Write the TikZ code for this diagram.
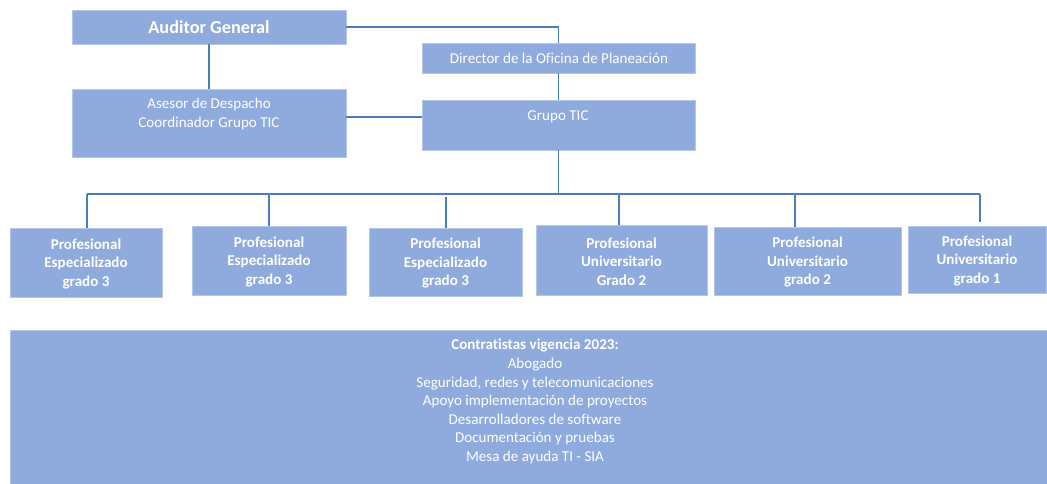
\documentclass[tikz,border=0pt]{standalone}
\usepackage{fontspec}
\setmainfont{Carlito}[Ligatures=CommonOff]
\definecolor{boxfill}{HTML}{8FAADC}
\definecolor{boxedge}{HTML}{B4C7E7}
\definecolor{linec}{HTML}{4A7EBB}
\newcommand\mkbox[5]{\node[box,minimum width={(#4-#2)*0.75pt},minimum height={(#5-#3)*0.75pt}] (#1) at (#2,#3) {};}
\begin{document}
\begin{tikzpicture}[x=0.75pt,y=-0.75pt,
  box/.style={fill=boxfill,draw=boxedge,line width=0.6pt,anchor=north west,inner sep=0pt,outer sep=0pt},
  txt/.style={text=white,font=\fontsize{11.3}{13.9}\selectfont,align=center,inner sep=0pt},
  btxt/.style={txt,font=\fontsize{11.3}{13.9}\selectfont\bfseries},
  conn/.style={draw=linec,line width=0.8pt}]
\useasboundingbox[fill=white] (0,0) rectangle (1047,484);
% boxes
\mkbox{aud}{72}{10}{346}{44}
\mkbox{dir}{422}{43}{695}{73}
\mkbox{ase}{72}{89}{346}{157}
\mkbox{grp}{422}{100}{695}{150}
\mkbox{p1}{10}{228}{162}{297}
\mkbox{p2}{192}{226}{346}{295}
\mkbox{p3}{369}{228}{522}{296}
\mkbox{p4}{536}{225}{707}{295}
\mkbox{p5}{714}{227}{901}{295}
\mkbox{p6}{908}{226}{1046}{293}
\mkbox{con}{10}{330}{1062}{500}
% texts
\node[btxt,font=\fontsize{13.7}{16}\selectfont\bfseries] (audT) at (209,27) {Auditor General};
\node[txt] (dirT) at (559,58) {Director de la Oficina de Planeación};
\node[txt] (aseT) at (209,114) {Asesor de Despacho\\Coordinador Grupo TIC};
\node[txt] (grpT) at (558,117) {Grupo TIC};
\node[btxt] (p1T) at ([yshift=-1]p1.center) {Profesional\\Especializado\\grado 3};
\node[btxt] (p2T) at ([yshift=-1]p2.center) {Profesional\\Especializado\\grado 3};
\node[btxt] (p3T) at ([yshift=-1]p3.center) {Profesional\\Especializado\\grado 3};
\node[btxt] (p4T) at ([yshift=-1]p4.center) {Profesional\\Universitario\\Grado 2};
\node[btxt] (p5T) at ([yshift=-1]p5.center) {Profesional\\Universitario\\grado 2};
\node[btxt] (p6T) at ([yshift=-1]p6.center) {Profesional\\Universitario\\grado 1};
\node[txt] (conT) at (535,401.5) {\textbf{Contratistas vigencia 2023:}\\Abogado\\Seguridad, redes y telecomunicaciones\\Apoyo implementación de proyectos\\Desarrolladores de software\\Documentación y pruebas\\Mesa de ayuda TI - SIA};
% connectors
\coordinate (busL) at (87,194);
\coordinate (busR) at (980,194);
\coordinate (b2) at (269,194);
\coordinate (b3) at (446,197);
\coordinate (b4) at (619,194);
\coordinate (b5) at (795,194);
\draw[conn] (aud.east |- audT) -| (dir.north);
\draw[conn] (dir.south) -- (grp.north);
\draw[conn] (aud.south) -- (ase.north);
\draw[conn] (ase.east |- grpT) -- (grp.west |- grpT);
\draw[conn] (grp.south) -- (grp.south |- busL);
\draw[conn] (busL) -- (busR);
\draw[conn] (busL) -- (busL |- p1.north);
\draw[conn] (b2) -- (b2 |- p2.north);
\draw[conn] (b3) -- (b3 |- p3.north);
\draw[conn] (b4) -- (b4 |- p4.north);
\draw[conn] (b5) -- (b5 |- p5.north);
\draw[conn] (busR) -- ++(0,28);
\end{tikzpicture}
\end{document}
